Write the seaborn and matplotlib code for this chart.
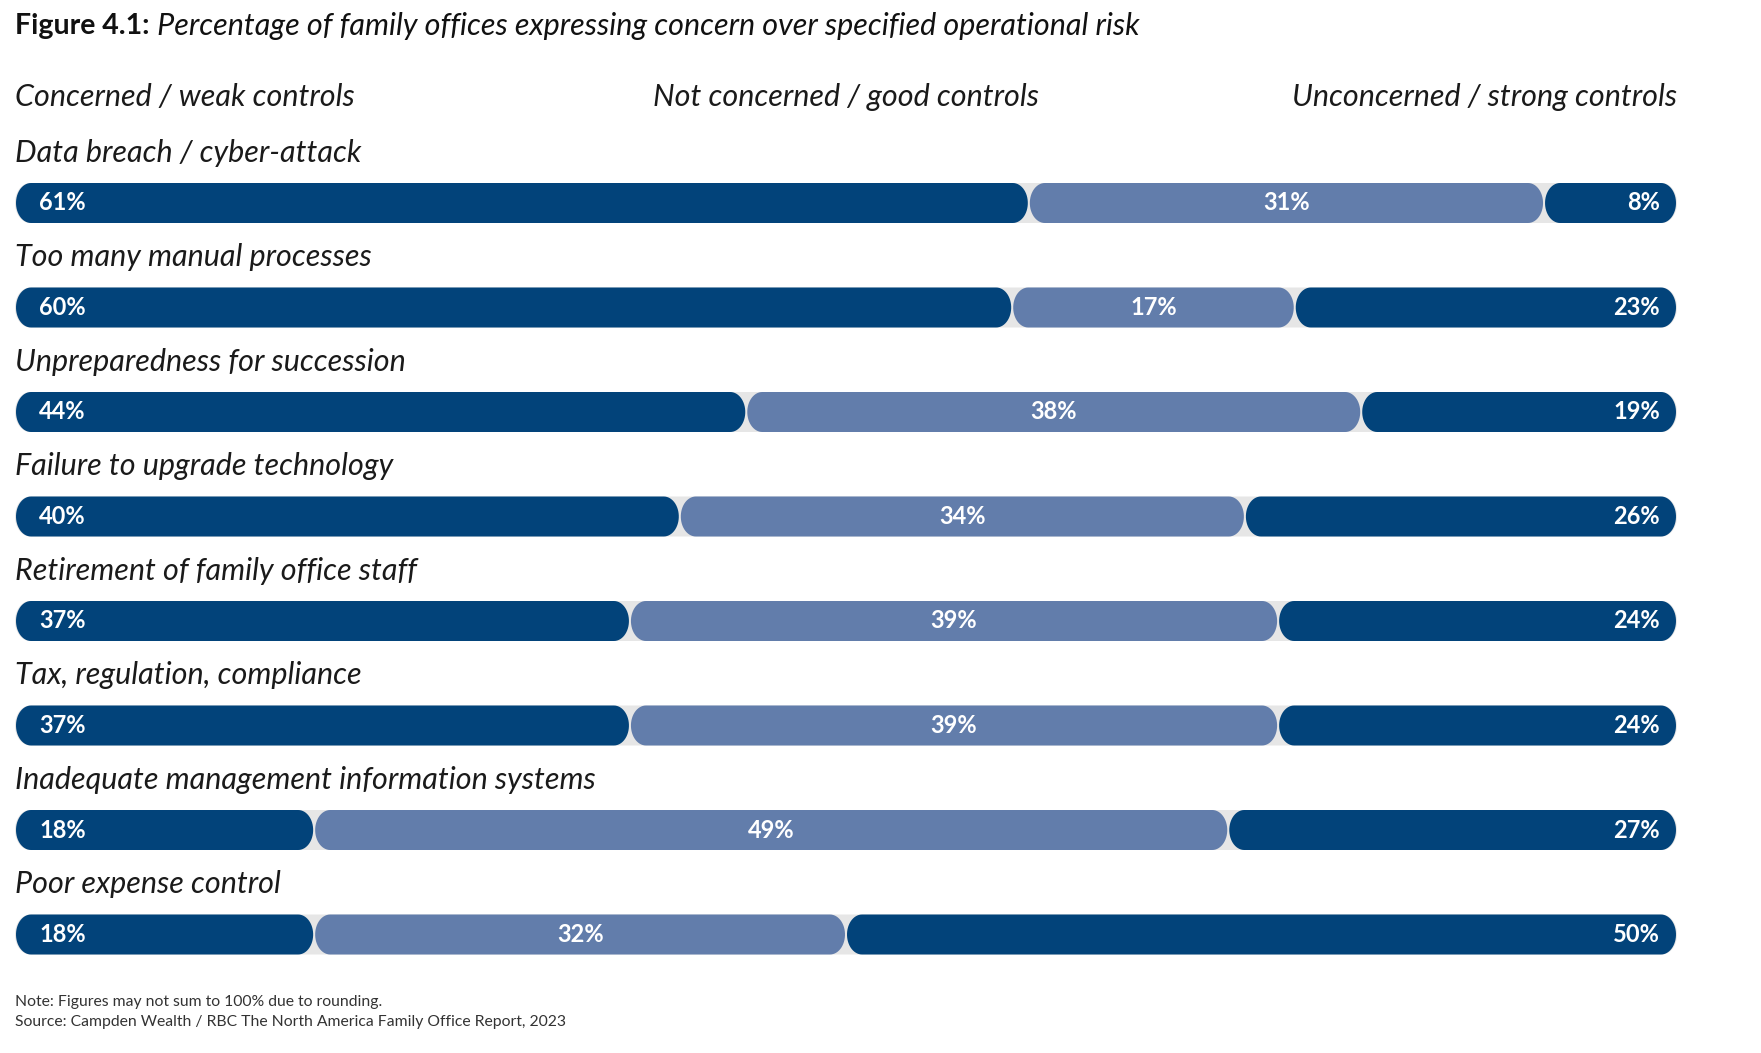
import matplotlib.pyplot as plt
import seaborn as sns
import numpy as np
from matplotlib.patches import Polygon

risks = ['Data breach / cyber-attack', 'Too many manual processes',
         'Unpreparedness for succession', 'Failure to upgrade technology',
         'Retirement of family office staff', 'Tax, regulation, compliance',
         'Inadequate management information systems', 'Poor expense control']
concerned = [61, 60, 44, 40, 37, 37, 18, 18]
not_concerned = [31, 17, 38, 34, 39, 39, 49, 32]
unconcerned = [8, 23, 19, 26, 24, 24, 27, 50]

headers = ['Concerned / weak controls', 'Not concerned / good controls',
           'Unconcerned / strong controls']
title_bold = 'Figure 4.1:'
title_rest = ' Percentage of family offices expressing concern over specified operational risk'
notes = ['Note: Figures may not sum to 100% due to rounding.',
         'Source: Campden Wealth / RBC The North America Family Office Report, 2023']

DARK = '#02437a'
LIGHT = '#627dab'
TRACK = '#e6e6e6'
INK = '#1a1a1a'
FONT = 'Lato'

sns.set_theme(style='white')
plt.rcParams['font.family'] = [FONT, 'DejaVu Sans']

W, H = 1761, 1053
fig = plt.figure(figsize=(W / 100, H / 100), dpi=100)
row_px = 104.5
first_px = 203
top_px = first_px - row_px / 2
bot_px = first_px + 7 * row_px + row_px / 2
ax = fig.add_axes([15 / W, 1 - bot_px / H, (1677 - 15) / W, (bot_px - top_px) / H])

# first segment anchored left, last anchored right, middle fills the gap
c = np.array(concerned, dtype=float)
u = np.array(unconcerned, dtype=float)
seg_left = [np.zeros(len(risks)), c, 100 - u]
seg_width = [c, 100 - c - u, u]

bar_h = 40 / row_px
sns.barplot(x=[100] * len(risks), y=risks, color=TRACK, width=bar_h,
            errorbar=None, ax=ax, saturation=1)
for k, col in enumerate([DARK, LIGHT, DARK]):
    sns.barplot(x=seg_width[k], y=risks, left=seg_left[k], color=col, width=bar_h,
                errorbar=None, ax=ax, saturation=1)

ax.set_xlim(0, 100)
ax.set_ylim(7.5, -0.5)
ax.axis('off')


def pill(x0, y0, w, h, rx):
    """Outline of a bar with half-ellipse ends."""
    ry = h / 2
    yc = y0 + ry
    t = np.linspace(-np.pi / 2, np.pi / 2, 30)
    right = np.column_stack([x0 + w - rx + rx * np.cos(t), yc + ry * np.sin(t)])
    left = np.column_stack([x0 + rx - rx * np.cos(t), yc - ry * np.sin(t)])
    return np.vstack([right, left])


# swap rectangles for pill shapes
px_per_x = (1677 - 15) / 100
rx_full = 15 / px_per_x
gap = 1.0 / px_per_x
rects = list(ax.patches)
for i, r in enumerate(rects):
    x0, y0, w, h = r.get_x(), r.get_y(), r.get_width(), r.get_height()
    fc = r.get_facecolor()
    r.remove()
    if i >= len(risks):
        x0, w = x0 + gap, w - 2 * gap
    rx = min(rx_full, w / 2)
    ax.add_patch(Polygon(pill(x0, y0, w, h, rx), closed=True,
                         facecolor=fc, edgecolor='none'))

lab_kw = dict(color='white', fontsize=17, fontweight='bold', va='center')
for i, name in enumerate(risks):
    ax.text(0, i - 0.48, name, fontsize=22, style='italic',
            color=INK, va='center', ha='left', clip_on=False)
    ax.text(24 / px_per_x, i, f'{concerned[i]}%', ha='left', **lab_kw)
    ax.text(c[i] + (100 - c[i] - u[i]) / 2, i, f'{not_concerned[i]}%', ha='center', **lab_kw)
    ax.text(100 - 17 / px_per_x, i, f'{unconcerned[i]}%', ha='right', **lab_kw)

# headers
hy = 1 - 97 / H
hkw = dict(fontsize=22, style='italic', color=INK, va='center')
fig.text(15 / W, hy, headers[0], ha='left', **hkw)
fig.text(846 / W, hy, headers[1], ha='center', **hkw)
fig.text(1677 / W, hy, headers[2], ha='right', **hkw)

# title
ty = 1 - 26 / H
t = fig.text(15 / W, ty, title_bold, fontsize=20.5, fontweight='bold',
             color='#111111', va='center', ha='left')
fig.canvas.draw()
bb = t.get_window_extent()
fig.text(bb.x1 / W, ty, title_rest, fontsize=22, style='italic',
         color='#111111', va='center', ha='left')

for j, line in enumerate(notes):
    fig.text(15 / W, 1 - (1002 + 20 * j) / H, line, fontsize=11.3,
             color='#333333', va='center', ha='left')

fig.savefig('out.png', dpi=100, facecolor='white')
